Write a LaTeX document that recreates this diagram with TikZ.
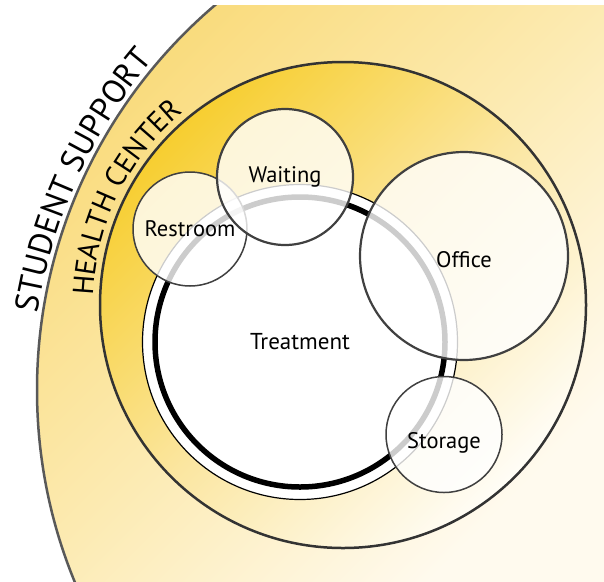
\documentclass[tikz,border=0pt]{standalone}
\usepackage{fontspec}
\setmainfont{PT Sans}
\usepackage{tikz}
\usetikzlibrary{decorations.text}
\definecolor{supportgold}{HTML}{F9DA78}
\definecolor{supportmid}{HTML}{FCEAB0}
\definecolor{supportpale}{HTML}{FFFAEE}
\definecolor{healthgold}{HTML}{F7CE30}
\definecolor{healthmid}{HTML}{FBE6A0}
\definecolor{healthpale}{HTML}{FFFDF6}
\tikzset{
  room/.style={circle,draw=black!75,line width=2.2pt,fill=white,fill opacity=0.8,
    text opacity=1,inner sep=0pt,font=\fontsize{22.5}{22.5}\selectfont},
  ringtext/.style={decorate,decoration={text along path,text align=center,text={#1}}}
}

\begin{document}
\begin{tikzpicture}[x=1pt,y=1pt]
\useasboundingbox (0,0) rectangle (604,-581);
\coordinate (support) at (542,-390);
\begin{scope}
\clip (0,-5) rectangle (604,-581);
\begin{scope}
\clip (support) circle[radius=505];
\shade[top color=supportgold,bottom color=supportpale,middle color=supportmid,shading angle=45]
  (0,-5) rectangle (604,-581);
\end{scope}
\draw[line width=2.5pt,black!65] (support) circle[radius=505];
\end{scope}
\node[circle,draw=black!80,line width=2.5pt,minimum size=486pt,inner sep=0pt,
  top color=healthgold,bottom color=healthpale,middle color=healthmid,shading angle=45]
  (health) at (343,-305) {};
\node[circle,draw,fill=white,line width=1.2pt,minimum size=315pt,inner sep=0pt,
  font=\fontsize{23}{23}\selectfont] (treatment) at (300,-342) {Treatment};
\draw[line width=5.5pt] (treatment.center) circle[radius=145];
\node[room,line width=1.5pt,minimum size=114pt] (restroom) at (190,-229) {Restroom};
\node[room,minimum size=136pt] (waiting) at (285,-177) {Waiting};
\node[room,minimum size=208pt,text height=22pt,text depth=0pt] (office) at (464,-256) {Office};
\node[room,line width=1.5pt,minimum size=116pt,text height=27pt,text depth=0pt] (storage) at (444,-434.5) {Storage};
\path[ringtext={|\fontsize{33}{33}\selectfont|STUDENT SUPPORT}]
  (support) ++(185.5:510) arc[start angle=185.5,end angle=125.5,radius=510];
\path[ringtext={|\fontsize{29}{29}\selectfont|HEALTH CENTER}]
  (health.center) ++(183.75:250) arc[start angle=183.75,end angle=123.75,radius=250];
\end{tikzpicture}
\end{document}
